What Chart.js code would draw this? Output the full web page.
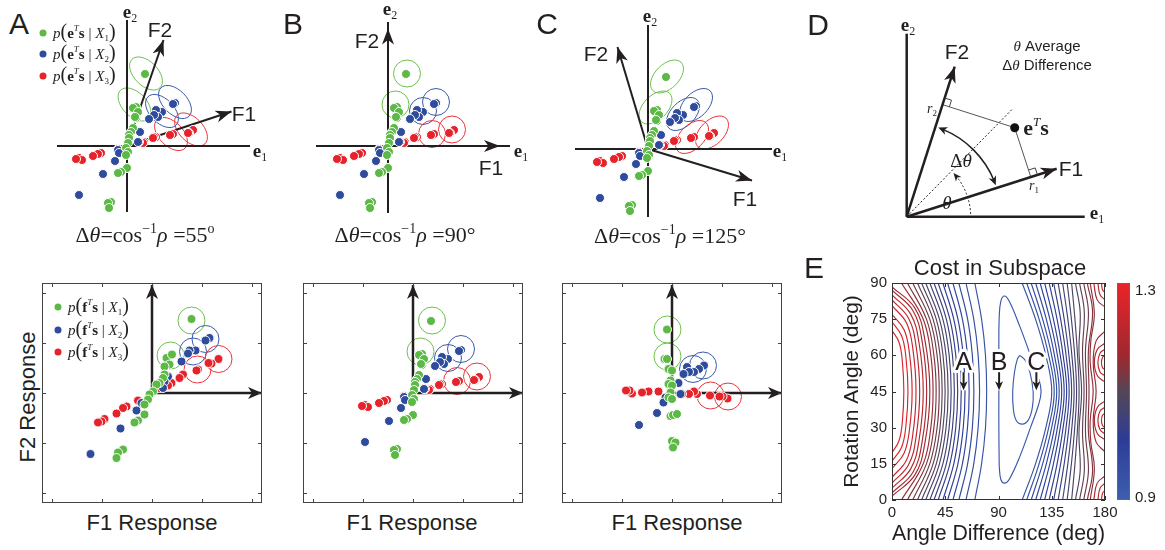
<!DOCTYPE html>
<html>
<head>
<meta charset="utf-8">
<title>Subspace projections</title>
<script src="https://cdn.jsdelivr.net/npm/chart.js@4.4.1/dist/chart.umd.min.js"></script>
<style>
  html, body { margin: 0; background: #fff; }
  #fig { position: relative; width: 1165px; height: 550px; overflow: hidden; color: #231f20;
         font-family: "Liberation Sans", Arial, sans-serif; }
  #fig canvas { position: absolute; }
  .lb { position: absolute; white-space: nowrap; line-height: 1; transform: translate(-50%, -50%); }
  .serif { font-family: "Liberation Serif", "Times New Roman", serif; }
  .letter { font-size: 30px; }
  .fv { font-size: 21px; }
  .ev { font-family: "Liberation Serif", serif; font-weight: bold; font-size: 19px; }
  .ev sub { font-size: 12px; font-weight: normal; vertical-align: -4px; line-height: 0; }
  .cap { font-family: "Liberation Serif", serif; font-size: 22px; }
  .cap sup { font-size: 14px; vertical-align: 9px; line-height: 0; }
  .ax { font-size: 22px; }
  .leg { position: absolute; white-space: nowrap; line-height: 1; transform: translateY(-50%);
         font-family: "Liberation Serif", serif; font-size: 15px; }
  .leg .pr { font-size: 20px; line-height: 0; }
  .leg sup { font-size: 9px; vertical-align: 7px; line-height: 0; }
  .leg sub { font-size: 9px; vertical-align: -3px; line-height: 0; }
  .dot { position: absolute; width: 7px; height: 7px; border-radius: 50%; transform: translate(-50%, -50%); }
  .txt { font-size: 15px; }
  .ets { font-family: "Liberation Serif", serif; font-weight: bold; font-size: 22px; }
  .ets sup { font-size: 13px; font-weight: normal; vertical-align: 9px; line-height: 0; }
  .rr { font-family: "Liberation Serif", serif; font-size: 14px; }
  .rr sub { font-size: 9px; vertical-align: -3px; line-height: 0; }
</style>
</head>
<body>
<div id="fig">
  <canvas id="topA" width="250" height="225" style="left:40px;top:0px"></canvas>
  <canvas id="topB" width="250" height="225" style="left:301px;top:0px"></canvas>
  <canvas id="topC" width="250" height="225" style="left:561px;top:3px"></canvas>
  <canvas id="botA" width="220" height="220" style="left:42px;top:283px"></canvas>
  <canvas id="botB" width="220" height="220" style="left:303px;top:283px"></canvas>
  <canvas id="botC" width="220" height="220" style="left:562px;top:283px"></canvas>
  <canvas id="diag" width="240" height="240" style="left:880px;top:0px"></canvas>
  <canvas id="cost" width="365" height="300" style="left:800px;top:250px"></canvas>

  <div class="lb letter" style="left:19px;top:24px">A</div>
  <div class="lb letter" style="left:293px;top:24px">B</div>
  <div class="lb letter" style="left:547px;top:24px">C</div>
  <div class="lb letter" style="left:818px;top:25px">D</div>
  <div class="lb letter" style="left:814px;top:268px">E</div>

  <!-- top row labels -->
  <div class="lb fv" style="left:160px;top:29px">F2</div>
  <div class="lb fv" style="left:244px;top:113px">F1</div>
  <div class="lb ev" style="left:130px;top:11px">e<sub>2</sub></div>
  <div class="lb ev" style="left:260px;top:150px">e<sub>1</sub></div>
  <div class="lb fv" style="left:367px;top:40px">F2</div>
  <div class="lb fv" style="left:491px;top:167px">F1</div>
  <div class="lb ev" style="left:390px;top:8px">e<sub>2</sub></div>
  <div class="lb ev" style="left:521px;top:150px">e<sub>1</sub></div>
  <div class="lb fv" style="left:596px;top:53px">F2</div>
  <div class="lb fv" style="left:745px;top:198px">F1</div>
  <div class="lb ev" style="left:650px;top:15px">e<sub>2</sub></div>
  <div class="lb ev" style="left:780px;top:150px">e<sub>1</sub></div>

  <div class="lb cap" style="left:145px;top:235px">Δ<i>θ</i>=cos<sup>−1</sup><i>ρ</i> =55<sup>o</sup></div>
  <div class="lb cap" style="left:405px;top:235px">Δ<i>θ</i>=cos<sup>−1</sup><i>ρ</i> =90°</div>
  <div class="lb cap" style="left:670px;top:236px">Δ<i>θ</i>=cos<sup>−1</sup><i>ρ</i> =125°</div>

  <div class="dot" style="left:43px;top:33px;background:#5cb946"></div>
  <div class="dot" style="left:43px;top:54px;background:#2e4b9c"></div>
  <div class="dot" style="left:43px;top:76px;background:#e5232b"></div>
  <div class="leg" style="left:53px;top:33px"><i>p</i><span class="pr">(</span><b>e</b><sup><i>T</i></sup><b>s</b> | <i>X</i><sub>1</sub><span class="pr">)</span></div>
  <div class="leg" style="left:53px;top:54px"><i>p</i><span class="pr">(</span><b>e</b><sup><i>T</i></sup><b>s</b> | <i>X</i><sub>2</sub><span class="pr">)</span></div>
  <div class="leg" style="left:53px;top:76px"><i>p</i><span class="pr">(</span><b>e</b><sup><i>T</i></sup><b>s</b> | <i>X</i><sub>3</sub><span class="pr">)</span></div>

  <!-- bottom row labels -->
  <div class="dot" style="left:58px;top:307px;background:#5cb946"></div>
  <div class="dot" style="left:58px;top:330px;background:#2e4b9c"></div>
  <div class="dot" style="left:58px;top:352px;background:#e5232b"></div>
  <div class="leg" style="left:68px;top:307px"><i>p</i><span class="pr">(</span><b>f</b><sup><i>T</i></sup><b>s</b> | <i>X</i><sub>1</sub><span class="pr">)</span></div>
  <div class="leg" style="left:68px;top:330px"><i>p</i><span class="pr">(</span><b>f</b><sup><i>T</i></sup><b>s</b> | <i>X</i><sub>2</sub><span class="pr">)</span></div>
  <div class="leg" style="left:68px;top:352px"><i>p</i><span class="pr">(</span><b>f</b><sup><i>T</i></sup><b>s</b> | <i>X</i><sub>3</sub><span class="pr">)</span></div>
  <div class="lb ax" style="left:28px;top:397px;transform:translate(-50%,-50%) rotate(-90deg)">F2 Response</div>
  <div class="lb ax" style="left:152px;top:523px">F1 Response</div>
  <div class="lb ax" style="left:412px;top:523px">F1 Response</div>
  <div class="lb ax" style="left:677px;top:523px">F1 Response</div>

  <!-- panel D labels -->
  <div class="lb fv" style="left:957px;top:51px">F2</div>
  <div class="lb fv" style="left:1071px;top:168px">F1</div>
  <div class="lb ev" style="left:908px;top:24px">e<sub>2</sub></div>
  <div class="lb ev" style="left:1097px;top:212px">e<sub>1</sub></div>
  <div class="lb ets" style="left:1036px;top:128px">e<sup><i>T</i></sup>s</div>
  <div class="lb rr" style="left:932px;top:109px"><i>r</i><sub>2</sub></div>
  <div class="lb rr" style="left:1034px;top:186px"><i>r</i><sub>1</sub></div>
  <div class="lb serif" style="left:961px;top:160px;font-size:19px">Δ<i>θ</i></div>
  <div class="lb serif" style="left:947px;top:202px;font-size:19px"><i>θ</i></div>
  <div class="lb txt" style="left:1047px;top:46px"><i class="serif">θ</i> Average</div>
  <div class="lb txt" style="left:1047px;top:65px">Δ<i class="serif">θ</i> Difference</div>

  <div class="lb" style="left:1000px;top:268px;font-size:22px">Cost in Subspace</div>
</div>

<script>
// ---- samples in the (e1, e2) plane, one unit = one tick of the response axes ----
const eGreen = [[0.36,1.44],[0.18,0.78],[0.12,0.76],[0.22,0.68],[0.18,0.56],[0.16,0.58],[0.12,0.36],[0.08,0.28],[0.04,0.22],[0.04,0.16],[0.02,0.06],[-0.02,-0.04],[0.02,-0.12],[-0.02,-0.18],[0,-0.44],[-0.12,-0.52],[-0.18,-0.54],[-0.32,-1.12],[-0.38,-1.14],[-0.36,-1.24]];
const eBlue = [[0.96,0.86],[0.92,0.84],[0.7,0.68],[0.58,0.72],[0.62,0.58],[0.54,0.62],[0.44,0.54],[0.26,0.28],[0.22,0.08],[-0.18,-0.08],[-0.16,-0.14],[-0.24,-0.3],[-0.48,-0.56],[-0.96,-0.98]];
const eRed = [[1.32,0.32],[1.24,0.26],[1.22,0.26],[0.92,0.24],[0.86,0.22],[0.58,0.18],[0.54,0.18],[0.52,0.16],[0.34,0.08],[0.32,0.06],[0.24,0.08],[-0.18,-0.06],[-0.52,-0.14],[-0.58,-0.16],[-0.68,-0.2],[-0.96,-0.24],[-0.9,-0.28],[-1.02,-0.26]];

// class means (two stimulus levels per class)
const meanGreen = [[0.38,1.45],[0.15,0.83]];
const meanBlue = [[0.96,0.88],[0.7,0.7]];
const meanRed = [[1.28,0.33],[0.88,0.24]];

// filter directions F1 / F2 and axis extents for panels A, B, C
const f1Tips = [[2.09,0.69],[2.24,0],[2.08,-0.63]];
const f2Tips = [[0.73,2.12],[0,2.35],[-0.61,2.04]];
const e1Extent = [[-1.4,2.46],[-1.44,2.44],[-1.46,2.48]];
const e2Extent = [[-1.32,2.52],[-1.34,2.48],[-1.36,2.48]];
// uncertainty ellipses: semi-axes and orientation (deg)
const ringMajor = [0.4, 0.27, 0.4];
const ringMinor = [0.24, 0.27, 0.24];
const ringAngle = [134.5, 0, 45];

// responses of the two filters (f^T s); panel B uses e1/e2 so it equals the samples
const fGreenA = [[0.79,1.48],[0.29,0.7],[0.4,0.77],[0.35,0.57],[0.25,0.53],[0.25,0.37],[0.22,0.3],[0.15,0.2],[0.09,0.17],[0.02,0.03],[-0.05,-0.03],[-0.08,-0.13],[-0.15,-0.23],[-0.15,-0.43],[-0.28,-0.55],[-0.35,-0.59],[-0.58,-1.13],[-0.68,-1.19],[-0.71,-1.3]];
const fBlueA = [[1.15,1.1],[1.07,1.05],[0.87,0.85],[0.75,0.85],[0.72,0.79],[0.59,0.63],[0.32,0.33],[0.25,0.23],[0.22,0.1],[-0.21,-0.2],[-0.31,-0.35],[-0.63,-0.71],[-1.23,-1.22]];
const fRedA = [[1.33,0.68],[1.19,0.59],[1.13,0.6],[0.92,0.47],[0.89,0.45],[0.62,0.37],[0.55,0.3],[0.39,0.2],[0.32,0.15],[0.15,0.1],[-0.28,-0.15],[-0.51,-0.27],[-0.58,-0.3],[-0.71,-0.41],[-0.95,-0.52],[-1.01,-0.57],[-1.08,-0.59]];
const fGreenC = [[-0.1,1.27],[-0.15,0.68],[-0.1,0.68],[-0.07,0.48],[0,0.45],[-0.03,0.25],[-0.07,0.18],[0,0.15],[-0.03,0.01],[-0.07,-0.09],[0,-0.12],[-0.03,-0.46],[0.02,-0.44],[0.1,-0.42],[0,-0.96],[0.07,-0.99],[0.02,-1.09]];
const fBlueC = [[0.64,0.55],[0.54,0.48],[0.44,0.42],[0.3,0.52],[0.34,0.42],[0.23,0.38],[0.13,0.2],[0.17,-0.02],[-0.13,-0.09],[-0.17,-0.19],[-0.3,-0.4],[-0.66,-0.64]];
const fRedC = [[1.11,-0.11],[1.01,-0.07],[0.95,-0.07],[0.76,-0.05],[0.5,-0.02],[0.44,0.03],[0.34,-0.02],[0.2,-0.02],[-0.27,0.03],[-0.47,0.03],[-0.6,0.01],[-0.8,-0.01],[-0.85,0.05],[-0.92,0.05]];
const circGreenA = [[0.79,1.45],[0.37,0.75]];
const circBlueA = [[1.07,1.08],[0.82,0.83]];
const circRedA = [[1.33,0.68],[0.91,0.47]];
const circGreenC = [[-0.09,1.27],[-0.09,0.73]];
const circBlueC = [[0.62,0.55],[0.42,0.48]];
const circRedC = [[0.77,-0.05],[1.12,-0.07]];
const circRadius = 0.27;
const respTicks = [-2, -1, 0, 1, 2];

// panel D geometry (1 unit = 1 px)
const dE1 = [[0,0],[178,0]];
const dE2 = [[0,0],[0,183]];
const dF1 = [150,48];
const dF2 = [48,150];
const dPoint = [108,89];
const dFoot1 = [124,40];
const dFoot2 = [36,112];
const dBisector = [106,108];
const dDeltaArc = { r: 94.5, from: 19.5, to: 70.5 };
const dThetaArc = { r: 64, from: 0, to: 43 };

// panel E: contour lines of the cost (Angle Difference, Rotation Angle)
const contourLevels = [
  1.28,1.265,1.249,1.233,1.218,1.203,1.187,1.172,1.156,1.14,1.125,1.11,1.094,1.078,1.063,1.048,1.032,1.016,1.001,0.986,0.97,0.955,0.939,
  0.922,0.91,
  0.935,0.949,0.962,0.976,0.989,1.003,1.016,1.03,1.043,1.057,1.07,1.084,1.097,1.111,1.124,1.138,
  1.15,1.165,1.185,1.21,1.235,1.185,1.21,1.235,1.18,1.21,1.24,1.18,1.21,1.24
];
const contourPaths = [
  [[0,70.4],[6,65.3],[8.7,57.7],[10,45],[8.7,32.3],[6,24.7],[0,19.6]],
  [[0,73.9],[8.1,68.1],[11.7,59.5],[13.5,45],[11.7,30.5],[8.1,21.9],[0,16.1]],
  [[0,77],[10.2,70.6],[14.7,61],[17,45],[14.7,29],[10.2,19.4],[0,13]],
  [[0,80.6],[12.2,73.5],[17.6,62.8],[20.3,45],[17.6,27.2],[12.2,16.5],[0,9.4]],
  [[0,83],[14,75.4],[20.3,64],[23.4,45],[20.3,26],[14,14.6],[0,7]],
  [[0,85.1],[15.8,77.1],[22.9,65],[26.4,45],[22.9,25],[15.8,12.9],[0,4.9]],
  [[0,87],[17.6,78.6],[25.4,66],[29.3,45],[25.4,24],[17.6,11.4],[0,3]],
  [[0,88.4],[19.2,79.7],[27.7,66.7],[32,45],[27.7,23.3],[19.2,10.3],[0,1.6]],
  [[8,90],[26.4,75],[32.8,60],[34.7,45],[32.8,30],[26.4,15],[8,0]],
  [[13,90],[29.1,75],[35.4,60],[37.3,45],[35.4,30],[29.1,15],[13,0]],
  [[17.5,90],[31.9,75],[38.1,60],[39.9,45],[38.1,30],[31.9,15],[17.5,0]],
  [[21.5,90],[34.7,75],[40.6,60],[42.4,45],[40.6,30],[34.7,15],[21.5,0]],
  [[25,90],[37.4,75],[43.1,60],[44.9,45],[43.1,30],[37.4,15],[25,0]],
  [[28.5,90],[40.1,75],[45.7,60],[47.4,45],[45.7,30],[40.1,15],[28.5,0]],
  [[32,90],[43,75],[48.3,60],[50,45],[48.3,30],[43,15],[32,0]],
  [[35.5,90],[45.9,75],[51.1,60],[52.7,45],[51.1,30],[45.9,15],[35.5,0]],
  [[39,90],[48.9,75],[53.9,60],[55.5,45],[53.9,30],[48.9,15],[39,0]],
  [[43,90],[52.2,75],[57,60],[58.5,45],[57,30],[52.2,15],[43,0]],
  [[47,90],[55.7,75],[60.2,60],[61.7,45],[60.2,30],[55.7,15],[47,0]],
  [[51.5,90],[59.5,75],[63.8,60],[65.2,45],[63.8,30],[59.5,15],[51.5,0]],
  [[56.5,90],[63.9,75],[67.9,60],[69.2,45],[67.9,30],[63.9,15],[56.5,0]],
  [[62.5,90],[69.1,75],[72.8,60],[74,45],[72.8,30],[69.1,15],[62.5,0]],
  [[70,90],[75.7,75],[79,60],[80,45],[79,30],[75.7,15],[70,0]],
  [[90.6,14],[90.3,30],[90.3,45],[90.3,60],[90.6,76],[92,82.5],[95,84.6],[99,82.5],[108,72],[117,60],[123.5,51],[126,45],[123.5,39],[117,30],[108,18],[99,8.5],[95,7],[92,8.5],[90.6,14]],
  [[108,60],[112.5,58],[116.5,53],[119.3,45],[118.5,38],[115,33],[110,31.5],[105,33],[102.5,38],[102,45],[103.5,53],[106,58.5],[108,60]],
  [[110,90],[121.3,75],[130,60],[135,45],[130,30],[121.3,15],[110,0]],
  [[113.8,90],[124.3,75],[132.4,60],[137.1,45],[132.4,30],[124.3,15],[113.8,0]],
  [[117.6,90],[127.3,75],[134.9,60],[139.2,45],[134.9,30],[127.3,15],[117.6,0]],
  [[121.4,90],[130.4,75],[137.3,60],[141.3,45],[137.3,30],[130.4,15],[121.4,0]],
  [[125.2,90],[133.4,75],[139.8,60],[143.4,45],[139.8,30],[133.4,15],[125.2,0]],
  [[129,90],[136.4,75],[142.2,60],[145.5,45],[142.2,30],[136.4,15],[129,0]],
  [[132.8,90],[139.5,75],[144.6,60],[147.6,45],[144.6,30],[139.5,15],[132.8,0]],
  [[136.6,90],[142.5,75],[147.1,60],[149.7,45],[147.1,30],[142.5,15],[136.6,0]],
  [[140.4,90],[145.5,75],[149.5,60],[151.8,45],[149.5,30],[145.5,15],[140.4,0]],
  [[144.2,90],[148.6,75],[152,60],[153.9,45],[152,30],[148.6,15],[144.2,0]],
  [[148,90],[151.6,75],[154.4,60],[156,45],[154.4,30],[151.6,15],[148,0]],
  [[151.8,90],[154.6,75],[156.8,60],[158.1,45],[156.8,30],[154.6,15],[151.8,0]],
  [[155,90],[159,78],[158,62],[160.2,45],[158,28],[159,12],[155,0]],
  [[158.5,90],[162.5,78],[161,62],[162.3,45],[161,28],[162.5,12],[158.5,0]],
  [[162,90],[166,78],[163.5,62],[164.4,45],[163.5,28],[166,12],[162,0]],
  [[165,90],[169.5,78],[166,62],[166.5,45],[166,28],[169.5,12],[165,0]],
  [[167.5,90],[171,77],[168,66],[167.5,57],[170,45],[167.5,33],[168,24],[171,13],[167.5,0]],
  [[180,70],[172.5,66],[170,57],[172.5,45],[170,33],[172.5,24],[180,20]],
  [[180,65],[173.7,62.6],[171,57],[173.7,51.4],[180,49]],
  [[180,62.5],[175.8,60.9],[174,57],[175.8,53.1],[180,51.5]],
  [[180,60],[177.9,59.1],[177,57],[177.9,54.9],[180,54]],
  [[180,41],[173.7,38.6],[171,33],[173.7,27.4],[180,25]],
  [[180,38.5],[175.8,36.9],[174,33],[175.8,29.1],[180,27.5]],
  [[180,36],[177.9,35.1],[177,33],[177.9,30.9],[180,30]],
  [[170.5,90],[173.4,83],[180,80]],
  [[174,90],[175.8,85.1],[180,83]],
  [[177,90],[177.9,87.2],[180,86]],
  [[170.5,0],[173.4,7],[180,10]],
  [[174,0],[175.8,4.9],[180,7]],
  [[177,0],[177.9,2.8],[180,4]]
];
const costMin = 0.9, costMax = 1.3;
const markerLabels = ['A', 'B', 'C'];
const markerX = [60.5, 90.5, 122];
const markerTextY = 54;
const markerArrow = [53, 45.5];

const ink = '#231f20';
const green = '#5cb946', blue = '#2e4b9c', red = '#e5232b';
const ringColours = ['#6cc04a', '#3a59aa', '#e8333a'];
const costStops = [[0, [61,95,174]], [0.28, [44,60,150]], [0.5, [84,70,86]], [0.66, [158,40,48]], [1, [234,36,42]]];

Chart.defaults.font.family = '"Liberation Sans", Arial, sans-serif';
Chart.defaults.color = ink;

function costColour(v) {
  const t = Math.min(1, Math.max(0, (v - costMin) / (costMax - costMin)));
  for (let i = 1; i < costStops.length; i++) {
    const [t1, c1] = costStops[i];
    const [t0, c0] = costStops[i - 1];
    if (t <= t1) {
      const f = (t - t0) / (t1 - t0);
      return 'rgb(' + c0.map((c, j) => Math.round(c + (c1[j] - c) * f)).join(',') + ')';
    }
  }
  return 'rgb(' + costStops[costStops.length - 1][1].join(',') + ')';
}

function xy(list) { return list.map(([x, y]) => ({ x, y })); }

function dots(list, colour) {
  return { data: xy(list), pointRadius: 4.5, backgroundColor: colour, borderColor: '#fff', borderWidth: 1 };
}

function seg(list, width, extra) {
  return Object.assign({ data: xy(list), showLine: true, pointRadius: 0, borderColor: ink, borderWidth: width }, extra || {});
}

function baseOptions(xr, yr) {
  return {
    responsive: false, animation: false, events: [],
    layout: { padding: 0, autoPadding: false },
    plugins: { legend: { display: false }, tooltip: { enabled: false } },
    scales: {
      x: { type: 'linear', display: false, min: xr[0], max: xr[1] },
      y: { type: 'linear', display: false, min: yr[0], max: yr[1] }
    }
  };
}

function arrowHead(ctx, x0, y0, x1, y1, len, half) {
  const a = Math.atan2(y1 - y0, x1 - x0);
  ctx.save();
  ctx.translate(x1, y1);
  ctx.rotate(a);
  ctx.beginPath();
  ctx.moveTo(0, 0);
  ctx.lineTo(-len, half);
  ctx.lineTo(-len * 0.72, 0);
  ctx.lineTo(-len, -half);
  ctx.closePath();
  ctx.fill();
  ctx.restore();
}

function drawRings(chart, centres, major, minor, angle) {
  const { ctx, scales: { x, y } } = chart;
  const unit = x.getPixelForValue(1) - x.getPixelForValue(0);
  ctx.save();
  ctx.lineWidth = 1;
  centres.forEach((list, c) => {
    ctx.strokeStyle = ringColours[c];
    list.forEach(m => {
      ctx.beginPath();
      ctx.ellipse(x.getPixelForValue(m[0]), y.getPixelForValue(m[1]), major * unit, minor * unit,
                  -angle * Math.PI / 180, 0, Math.PI * 2);
      ctx.stroke();
    });
  });
  ctx.restore();
}

function drawArrowHeads(chart, tips, len, half) {
  const { ctx, scales: { x, y } } = chart;
  const ox = x.getPixelForValue(0), oy = y.getPixelForValue(0);
  ctx.save();
  ctx.fillStyle = ink;
  tips.forEach(t => arrowHead(ctx, ox, oy, x.getPixelForValue(t[0]), y.getPixelForValue(t[1]), len, half));
  ctx.restore();
}

// ---- top row: samples in e-space with the two filter directions ----
function topPanel(id, k) {
  const opts = baseOptions([-1.74, 3.26], [-1.58, 2.92]);
  new Chart(document.getElementById(id), {
    type: 'scatter',
    data: { datasets: [
      dots(eGreen, green), dots(eBlue, blue), dots(eRed, red),
      seg([[0, 0], f1Tips[k]], 2), seg([[0, 0], f2Tips[k]], 2),
      seg([[e1Extent[k][0], 0], [e1Extent[k][1], 0]], 2),
      seg([[0, e2Extent[k][0]], [0, e2Extent[k][1]]], 2)
    ]},
    options: opts,
    plugins: [{
      id: 'topDecor',
      beforeDatasetsDraw(chart) {
        drawRings(chart, [meanGreen, meanBlue, meanRed], ringMajor[k], ringMinor[k], ringAngle[k]);
      },
      afterDatasetsDraw(chart) { drawArrowHeads(chart, [f1Tips[k], f2Tips[k]], 16, 6); }
    }]
  });
}

// ---- bottom row: filter responses ----
function bottomPanel(id, g, b, r, rings) {
  new Chart(document.getElementById(id), {
    type: 'scatter',
    data: { datasets: [
      dots(g, green), dots(b, blue), dots(r, red),
      seg([[0, 0], [2.2, 0]], 2.5), seg([[0, 0], [0, 2.16]], 2.5)
    ]},
    options: baseOptions([-2.2, 2.2], [-2.2, 2.2]),
    plugins: [{
      id: 'botDecor',
      beforeDatasetsDraw(chart) { drawRings(chart, rings, circRadius, circRadius, 0); },
      afterDatasetsDraw(chart) { drawArrowHeads(chart, [[2.2, 0], [0, 2.16]], 14, 6); },
      afterDraw(chart) {
        const { ctx, chartArea: a, scales: { x, y } } = chart;
        ctx.save();
        ctx.strokeStyle = '#444';
        ctx.lineWidth = 1;
        ctx.strokeRect(a.left + 0.5, a.top + 0.5, a.right - a.left - 1, a.bottom - a.top - 1);
        ctx.beginPath();
        respTicks.forEach(v => {
          const px = Math.round(x.getPixelForValue(v)) + 0.5;
          const py = Math.round(y.getPixelForValue(v)) + 0.5;
          ctx.moveTo(px, a.bottom); ctx.lineTo(px, a.bottom - 4);
          ctx.moveTo(px, a.top); ctx.lineTo(px, a.top + 4);
          ctx.moveTo(a.left, py); ctx.lineTo(a.left + 4, py);
          ctx.moveTo(a.right, py); ctx.lineTo(a.right - 4, py);
        });
        ctx.stroke();
        ctx.restore();
      }
    }]
  });
}

topPanel('topA', 0);
topPanel('topB', 1);
topPanel('topC', 2);
bottomPanel('botA', fGreenA, fBlueA, fRedA, [circGreenA, circBlueA, circRedA]);
bottomPanel('botB', eGreen, eBlue, eRed, [meanGreen, meanBlue, meanRed]);
bottomPanel('botC', fGreenC, fBlueC, fRedC, [circGreenC, circBlueC, circRedC]);

// ---- panel D: projection of a stimulus onto two filters ----
function unitVec(v) { const n = Math.hypot(v[0], v[1]); return [v[0] / n, v[1] / n]; }

new Chart(document.getElementById('diag'), {
  type: 'scatter',
  data: { datasets: [
    { data: xy([dPoint]), pointRadius: 4.5, backgroundColor: '#111', borderWidth: 0 },
    seg(dE1, 2.5), seg(dE2, 2.5),
    seg([[0, 0], dF1], 2.5), seg([[0, 0], dF2], 2.5),
    seg([dPoint, dFoot1], 1, { borderColor: '#555' }),
    seg([dPoint, dFoot2], 1, { borderColor: '#555' }),
    seg([[0, 0], dBisector], 1, { borderDash: [2, 2] })
  ]},
  options: baseOptions([-26.7, 213.3], [-23.3, 216.7]),
  plugins: [{
    id: 'diagDecor',
    afterDatasetsDraw(chart) {
      const { ctx, scales: { x, y } } = chart;
      const px = p => [x.getPixelForValue(p[0]), y.getPixelForValue(p[1])];
      const o = px([0, 0]);
      drawArrowHeads(chart, [dF1, dF2], 16, 6);
      ctx.save();
      ctx.strokeStyle = '#444';
      ctx.fillStyle = ink;
      ctx.lineWidth = 1;
      // right-angle marks where the stimulus projects onto each filter
      [[dFoot1, dF1], [dFoot2, dF2]].forEach(([f, dir]) => {
        const u = unitVec(dir), n = unitVec([dPoint[0] - f[0], dPoint[1] - f[1]]), s = 7;
        const c = [[f[0] + s * u[0], f[1] + s * u[1]], [f[0] + s * (u[0] + n[0]), f[1] + s * (u[1] + n[1])], [f[0] + s * n[0], f[1] + s * n[1]]].map(px);
        ctx.beginPath();
        ctx.moveTo(c[0][0], c[0][1]); ctx.lineTo(c[1][0], c[1][1]); ctx.lineTo(c[2][0], c[2][1]);
        ctx.stroke();
      });
      const rad = d => d * Math.PI / 180;
      const onArc = (r, d) => [o[0] + r * Math.cos(rad(d)), o[1] - r * Math.sin(rad(d))];
      // angle difference: double-headed arc between the filters
      let r = x.getPixelForValue(dDeltaArc.r) - o[0];
      ctx.strokeStyle = ink;
      ctx.lineWidth = 1.5;
      ctx.beginPath();
      ctx.arc(o[0], o[1], r, -rad(dDeltaArc.to - 3), -rad(dDeltaArc.from + 3));
      ctx.stroke();
      let p = onArc(r, dDeltaArc.from), q = onArc(r, dDeltaArc.from + 6);
      arrowHead(ctx, q[0], q[1], p[0], p[1], 9, 4);
      p = onArc(r, dDeltaArc.to); q = onArc(r, dDeltaArc.to - 6);
      arrowHead(ctx, q[0], q[1], p[0], p[1], 9, 4);
      // average angle: dotted arc from e1 to the bisector
      r = x.getPixelForValue(dThetaArc.r) - o[0];
      ctx.lineWidth = 1;
      ctx.setLineDash([2, 2]);
      ctx.beginPath();
      ctx.arc(o[0], o[1], r, -rad(dThetaArc.to - 3), -rad(dThetaArc.from));
      ctx.stroke();
      ctx.setLineDash([]);
      p = onArc(r, dThetaArc.to); q = onArc(r, dThetaArc.to - 6);
      arrowHead(ctx, q[0], q[1], p[0], p[1], 8, 3.5);
      ctx.restore();
    }
  }]
});

// ---- panel E: cost as a function of angle difference and rotation ----
const costDatasets = contourPaths.map((path, i) => ({
  data: xy(path), showLine: true, pointRadius: 0, borderWidth: 1.15, tension: 0.4,
  borderColor: costColour(contourLevels[i])
}));

new Chart(document.getElementById('cost'), {
  type: 'scatter',
  data: { datasets: costDatasets },
  options: {
    responsive: false, animation: false, events: [],
    layout: { padding: { left: 40, top: 33, right: 60, bottom: 0 }, autoPadding: false },
    plugins: { legend: { display: false }, tooltip: { enabled: false } },
    scales: {
      x: {
        type: 'linear', min: 0, max: 180,
        ticks: { stepSize: 45, font: { size: 15 }, padding: 4, maxRotation: 0 },
        grid: { display: false, drawTicks: false }, border: { display: false },
        title: { display: true, text: 'Angle Difference (deg)', font: { size: 22 }, padding: { top: 2, bottom: 3 } },
        afterFit: s => { s.height = 50; }
      },
      y: {
        type: 'linear', min: 0, max: 90,
        ticks: { stepSize: 15, font: { size: 15 }, padding: 5 },
        grid: { display: false, drawTicks: false }, border: { display: false },
        title: { display: true, text: 'Rotation Angle (deg)', font: { size: 21 }, padding: { top: 0, bottom: 2 } },
        afterFit: s => { s.width = 52; }
      }
    }
  },
  plugins: [{
    id: 'costDecor',
    afterDraw(chart) {
      const { ctx, chartArea: a, scales: { x, y } } = chart;
      ctx.save();
      // frame with inward ticks
      ctx.strokeStyle = '#333';
      ctx.lineWidth = 1;
      ctx.strokeRect(a.left + 0.5, a.top + 0.5, a.right - a.left - 1, a.bottom - a.top - 1);
      ctx.beginPath();
      x.ticks.forEach(t => {
        const px = Math.round(x.getPixelForValue(t.value)) + 0.5;
        ctx.moveTo(px, a.bottom); ctx.lineTo(px, a.bottom - 4);
        ctx.moveTo(px, a.top); ctx.lineTo(px, a.top + 4);
      });
      y.ticks.forEach(t => {
        const py = Math.round(y.getPixelForValue(t.value)) + 0.5;
        ctx.moveTo(a.left, py); ctx.lineTo(a.left + 4, py);
        ctx.moveTo(a.right, py); ctx.lineTo(a.right - 4, py);
      });
      ctx.stroke();

      // A / B / C markers
      ctx.font = '25px "Liberation Sans", Arial, sans-serif';
      ctx.textAlign = 'center';
      ctx.textBaseline = 'alphabetic';
      ctx.lineJoin = 'round';
      markerLabels.forEach((s, i) => {
        const px = x.getPixelForValue(markerX[i]);
        const ty = y.getPixelForValue(markerTextY);
        const y0 = y.getPixelForValue(markerArrow[0]), y1 = y.getPixelForValue(markerArrow[1]);
        ctx.strokeStyle = '#fff';
        ctx.lineWidth = 6;
        ctx.strokeText(s, px, ty);
        ctx.beginPath(); ctx.moveTo(px, y0); ctx.lineTo(px, y1); ctx.stroke();
        ctx.fillStyle = ink;
        ctx.fillText(s, px, ty);
        ctx.strokeStyle = ink;
        ctx.lineWidth = 2;
        ctx.beginPath(); ctx.moveTo(px, y0); ctx.lineTo(px, y1 - 6); ctx.stroke();
        arrowHead(ctx, px, y0, px, y1, 9, 4);
      });

      // colour bar
      const cbX = a.right + 12, cbW = 13;
      const g = ctx.createLinearGradient(0, a.bottom, 0, a.top);
      costStops.forEach(([t, c]) => g.addColorStop(t, 'rgb(' + c.join(',') + ')'));
      ctx.fillStyle = g;
      ctx.fillRect(cbX, a.top, cbW, a.bottom - a.top);
      ctx.strokeStyle = '#666';
      ctx.lineWidth = 1;
      ctx.strokeRect(cbX + 0.5, a.top + 0.5, cbW - 1, a.bottom - a.top - 1);
      ctx.fillStyle = ink;
      ctx.font = '15px "Liberation Sans", Arial, sans-serif';
      ctx.textAlign = 'left';
      ctx.textBaseline = 'middle';
      ctx.fillText(costMax.toFixed(1), cbX + cbW + 5, a.top + 8);
      ctx.fillText(costMin.toFixed(1), cbX + cbW + 5, a.bottom - 2);
      ctx.restore();
    }
  }]
});
</script>
</body>
</html>
